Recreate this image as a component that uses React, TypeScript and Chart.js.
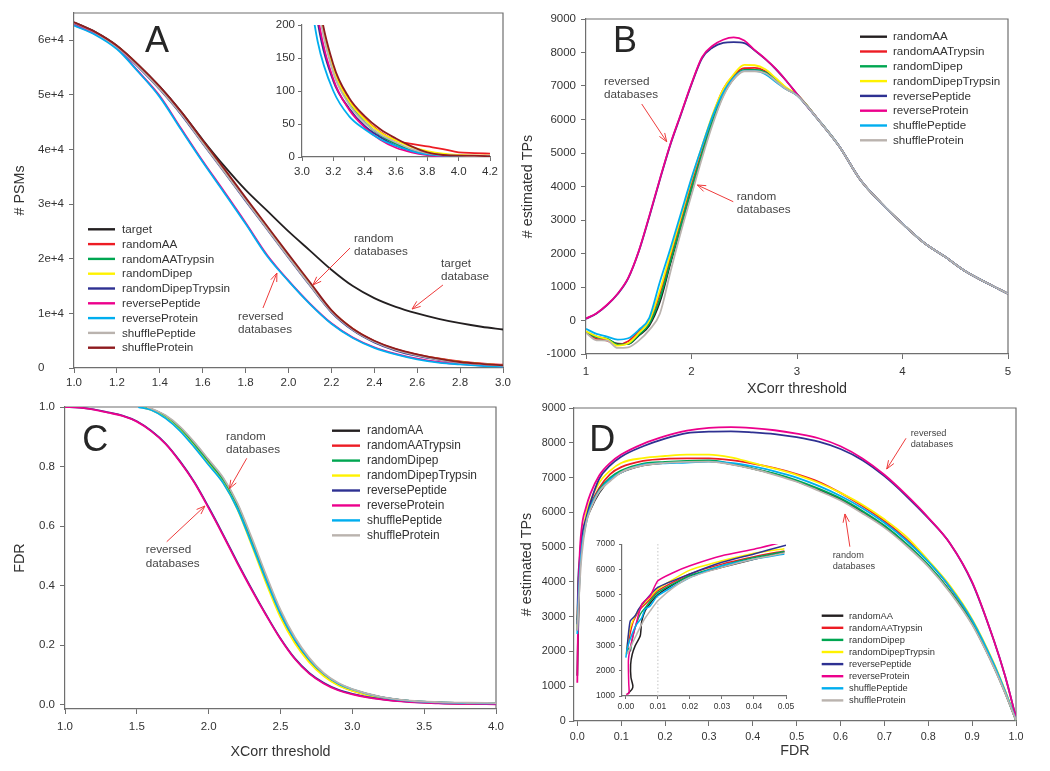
import React, { useEffect, useRef } from 'react';
import { Chart, registerables } from 'chart.js';

Chart.register(...registerables);

const FONT = "'Liberation Sans', Arial, Helvetica, sans-serif";
const TXT = '#333333';
const NOTE = '#454545';
const AXIS = '#6f6f6f';
const ARROW = '#ee3b3b';

const BLACK = '#231f20';
const RED = '#ed1c24';
const GREEN = '#00a651';
const YELLOW = '#fff200';
const NAVY = '#2e3192';
const MAGENTA = '#ec008c';
const CYAN = '#00aeef';
const GRAY = '#bab3ae';
const DARKRED = '#8e1b1f';

// ---------------- Panel A : # PSMs vs XCorr ----------------
const XA = [1.0, 1.1, 1.2, 1.3, 1.4, 1.5, 1.6, 1.7, 1.8, 1.9, 2.0, 2.1, 2.2, 2.3, 2.4, 2.5, 2.6, 2.7, 2.8, 2.9, 3.0];
const A_target = [63300, 61500, 59000, 55500, 51500, 46900, 41800, 37000, 32600, 28800, 25000, 21500, 18000, 15000, 12800, 11200, 10000, 9000, 8200, 7550, 7050];
const A_randomAA = [63200, 61400, 58900, 55400, 51300, 46700, 41500, 36300, 31000, 25800, 20500, 15400, 10500, 7200, 4950, 3450, 2450, 1750, 1200, 850, 600];
const A_randomAATrypsin = [63200, 61400, 58900, 55300, 51200, 46600, 41400, 36200, 30900, 25700, 20400, 15300, 10400, 7050, 4800, 3300, 2300, 1600, 1050, 700, 450];
const A_randomDipep = [63200, 61400, 58900, 55400, 51300, 46700, 41500, 36300, 31000, 25800, 20600, 15500, 10500, 7150, 4900, 3400, 2400, 1650, 1100, 750, 500];
const A_randomDipepTrypsin = [63100, 61300, 58700, 55100, 51000, 46400, 41100, 35900, 30600, 25400, 20200, 15100, 10200, 6900, 4700, 3200, 2200, 1500, 1000, 650, 450];
const A_reversePeptide = [62800, 61100, 58600, 54300, 49800, 43800, 37900, 32300, 26600, 20700, 16000, 11800, 8200, 5600, 3800, 2600, 1700, 1100, 700, 450, 300];
const A_reverseProtein = [62700, 61000, 58400, 54200, 49600, 43600, 37700, 32100, 26400, 20500, 15900, 11700, 8100, 5500, 3700, 2500, 1600, 1000, 650, 400, 250];
const A_shufflePeptide = [63200, 61400, 58800, 55200, 51100, 46500, 41200, 36000, 30700, 25500, 20300, 15200, 10300, 7000, 4800, 3300, 2300, 1550, 1000, 700, 450];
const A_shuffleProtein = [63300, 61500, 59000, 55500, 51500, 46900, 41700, 36500, 31200, 26000, 20800, 15700, 10600, 7200, 5000, 3500, 2500, 1700, 1100, 750, 500];
const A_XTICKS = [1.0, 1.2, 1.4, 1.6, 1.8, 2.0, 2.2, 2.4, 2.6, 2.8, 3.0];
const A_YTICKS = [0, 10000, 20000, 30000, 40000, 50000, 60000];

// inset of panel A
const XAI = [3.0, 3.1, 3.2, 3.3, 3.4, 3.5, 3.6, 3.7, 3.8, 3.9, 4.0, 4.1, 4.2];
const AI_randomAA = [480, 245, 135, 86, 58, 38, 25, 20, 16, 12, 7, 6, 5];
const AI_randomAATrypsin = [470, 240, 130, 82, 53, 33, 20, 10, 5, 3, 2, 1, 1];
const AI_randomDipep = [470, 242, 133, 85, 57, 37, 25, 15, 9, 5, 3, 2, 2];
const AI_randomDipepTrypsin = [400, 205, 115, 74, 47, 30, 17, 9, 4, 2, 1, 1, 1];
const AI_reversePeptide = [420, 215, 118, 72, 45, 26, 14, 7, 3, 1, 1, 0, 0];
const AI_reverseProtein = [330, 175, 100, 62, 42, 27, 17, 9, 4, 2, 1, 1, 1];
const AI_shufflePeptide = [460, 235, 128, 80, 52, 34, 22, 12, 6, 3, 2, 1, 1];
const AI_shuffleProtein = [490, 250, 140, 90, 62, 42, 28, 16, 7, 3, 2, 2, 1];
const AI_XTICKS = [3.0, 3.2, 3.4, 3.6, 3.8, 4.0, 4.2];
const AI_YTICKS = [0, 50, 100, 150, 200];

// ---------------- Panel B : # estimated TPs vs XCorr ----------------
const XB = [1.0, 1.1, 1.2, 1.3, 1.4, 1.5, 1.6, 1.7, 1.8, 1.9, 2.0, 2.1, 2.2, 2.3, 2.4, 2.5, 2.6, 2.7, 2.8, 2.9, 3.0, 3.2, 3.4, 3.6, 3.8, 4.0, 4.2, 4.4, 4.6, 4.8, 5.0];
const B_TAIL = [6000, 5200, 4200, 3500, 2890, 2330, 1910, 1460, 1120, 800];
const B_randomAA = [-340, -480, -560, -690, -700, -450, -150, 550, 1700, 2800, 3900, 4950, 5920, 6720, 7220, 7460, 7470, 7400, 7170, 6910, 6730, ...B_TAIL];
const B_randomAATrypsin = [-350, -550, -600, -720, -620, -330, -20, 800, 1900, 3000, 4100, 5100, 6100, 6900, 7320, 7530, 7540, 7440, 7200, 6930, 6740, ...B_TAIL];
const B_randomDipep = [-330, -500, -540, -720, -700, -430, -100, 650, 1750, 2850, 3950, 4980, 5950, 6750, 7250, 7480, 7480, 7410, 7180, 6920, 6730, ...B_TAIL];
const B_randomDipepTrypsin = [-320, -470, -560, -750, -680, -380, 0, 900, 2000, 3100, 4200, 5200, 6150, 6900, 7350, 7630, 7620, 7500, 7230, 6950, 6750, ...B_TAIL];
const B_reversePeptide = [50, 210, 460, 790, 1260, 2060, 3100, 4200, 5250, 6150, 7050, 7830, 8150, 8290, 8310, 8280, 8060, 7800, 7500, 7150, 6760, ...B_TAIL];
const B_reverseProtein = [60, 220, 470, 800, 1270, 2070, 3120, 4220, 5270, 6170, 7070, 7860, 8200, 8380, 8450, 8360, 8070, 7810, 7510, 7150, 6760, ...B_TAIL];
const B_shufflePeptide = [-250, -400, -480, -570, -530, -280, 80, 1150, 2150, 3200, 4250, 5200, 6100, 6800, 7250, 7450, 7450, 7350, 7120, 6900, 6720, ...B_TAIL];
const B_shuffleProtein = [-370, -590, -600, -820, -800, -600, -280, 200, 1450, 2650, 3750, 4850, 5850, 6680, 7200, 7440, 7440, 7380, 7150, 6900, 6720, ...B_TAIL];
const B_XTICKS = [1, 2, 3, 4, 5];
const B_YTICKS = [-1000, 0, 1000, 2000, 3000, 4000, 5000, 6000, 7000, 8000, 9000];

// ---------------- Panel C : FDR vs XCorr ----------------
const XC_REV = [1.0, 1.1, 1.2, 1.3, 1.4, 1.5, 1.6, 1.7, 1.8, 1.9, 2.0, 2.1, 2.2, 2.3, 2.4, 2.5, 2.6, 2.7, 2.8, 2.9, 3.0, 3.2, 3.4, 3.6, 3.8, 4.0];
const C_reversePeptide = [1.0, 0.998, 0.992, 0.982, 0.971, 0.952, 0.92, 0.877, 0.818, 0.748, 0.663, 0.572, 0.478, 0.388, 0.302, 0.222, 0.155, 0.106, 0.073, 0.05, 0.036, 0.018, 0.009, 0.005, 0.003, 0.002];
const C_reverseProtein = [1.0, 0.998, 0.991, 0.981, 0.97, 0.951, 0.919, 0.876, 0.816, 0.746, 0.66, 0.569, 0.475, 0.385, 0.3, 0.22, 0.153, 0.104, 0.071, 0.048, 0.034, 0.017, 0.008, 0.004, 0.002, 0.001];
const XC_RND = [1.6, 1.7, 1.8, 1.9, 2.0, 2.1, 2.2, 2.3, 2.4, 2.5, 2.6, 2.7, 2.8, 2.9, 3.0, 3.2, 3.4, 3.6, 3.8, 4.0];
// x where each random-type curve starts at FDR = 1.0
const C_START_randomAA = 1.55;
const C_START_randomAATrypsin = 1.53;
const C_START_randomDipep = 1.54;
const C_START_randomDipepTrypsin = 1.52;
const C_START_shufflePeptide = 1.51;
const C_START_shuffleProtein = 1.57;
const C_randomAA = [0.993, 0.97, 0.931, 0.879, 0.82, 0.76, 0.673, 0.553, 0.428, 0.312, 0.221, 0.153, 0.103, 0.07, 0.05, 0.025, 0.012, 0.007, 0.005, 0.004];
const C_randomAATrypsin = [0.991, 0.966, 0.925, 0.871, 0.811, 0.751, 0.664, 0.542, 0.415, 0.3, 0.212, 0.147, 0.099, 0.067, 0.047, 0.023, 0.011, 0.006, 0.004, 0.003];
const C_randomDipep = [0.992, 0.968, 0.928, 0.875, 0.815, 0.755, 0.668, 0.549, 0.424, 0.308, 0.218, 0.151, 0.102, 0.069, 0.049, 0.024, 0.012, 0.007, 0.005, 0.004];
const C_randomDipepTrypsin = [0.99, 0.964, 0.922, 0.867, 0.807, 0.746, 0.656, 0.535, 0.408, 0.293, 0.206, 0.142, 0.096, 0.065, 0.046, 0.022, 0.011, 0.006, 0.004, 0.003];
const C_shufflePeptide = [0.99, 0.962, 0.92, 0.865, 0.805, 0.745, 0.658, 0.54, 0.418, 0.305, 0.218, 0.152, 0.104, 0.071, 0.051, 0.025, 0.012, 0.007, 0.005, 0.004];
const C_shuffleProtein = [0.995, 0.972, 0.934, 0.882, 0.823, 0.763, 0.677, 0.56, 0.435, 0.318, 0.226, 0.157, 0.106, 0.073, 0.052, 0.026, 0.013, 0.008, 0.006, 0.005];
const C_XTICKS = [1.0, 1.5, 2.0, 2.5, 3.0, 3.5, 4.0];
const C_YTICKS = [0, 0.2, 0.4, 0.6, 0.8, 1.0];

// ---------------- Panel D : # estimated TPs vs FDR ----------------
const XD = [0, 0.002, 0.005, 0.01, 0.02, 0.03, 0.05, 0.075, 0.1, 0.15, 0.2, 0.25, 0.3, 0.35, 0.4, 0.45, 0.5, 0.55, 0.6, 0.65, 0.7, 0.75, 0.8, 0.85, 0.9, 0.95, 0.975, 1.0];
const D_randomAA = [1300, 2650, 4100, 5000, 5750, 6080, 6560, 6950, 7150, 7350, 7420, 7460, 7470, 7390, 7260, 7100, 6900, 6650, 6370, 6000, 5590, 5070, 4470, 3720, 2800, 1550, 820, 20];
const D_randomAATrypsin = [2600, 3700, 4450, 5160, 5820, 6210, 6700, 7100, 7300, 7480, 7540, 7550, 7550, 7500, 7400, 7270, 7100, 6880, 6560, 6180, 5750, 5230, 4600, 3830, 2870, 1600, 850, 30];
const D_randomDipep = [2900, 3200, 4230, 5090, 5750, 6150, 6650, 7000, 7200, 7400, 7450, 7480, 7490, 7400, 7260, 7110, 6920, 6680, 6400, 6040, 5620, 5100, 4490, 3730, 2810, 1560, 830, 20];
const D_randomDipepTrypsin = [2650, 3800, 4500, 5160, 5950, 6340, 6850, 7200, 7420, 7560, 7620, 7660, 7660, 7580, 7420, 7260, 7080, 6850, 6560, 6220, 5800, 5300, 4620, 3880, 2930, 1650, 880, 30];
const D_reversePeptide = [2780, 4000, 4600, 5290, 5820, 6280, 6960, 7350, 7600, 7900, 8120, 8280, 8320, 8330, 8300, 8250, 8160, 8030, 7820, 7500, 7040, 6470, 5830, 5100, 3980, 2300, 1300, 100];
const D_reverseProtein = [1100, 3100, 4650, 5550, 6145, 6540, 7060, 7420, 7660, 7970, 8190, 8350, 8430, 8450, 8420, 8360, 8260, 8130, 7900, 7550, 7080, 6500, 5850, 5100, 4000, 2300, 1300, 100];
const D_shufflePeptide = [2500, 3300, 4100, 4960, 5680, 6150, 6610, 6950, 7150, 7370, 7410, 7430, 7460, 7420, 7320, 7180, 7000, 6760, 6470, 6120, 5700, 5190, 4580, 3840, 2900, 1620, 860, 30];
const D_shuffleProtein = [2600, 3050, 3850, 4760, 5680, 6080, 6600, 6900, 7150, 7350, 7420, 7450, 7460, 7380, 7250, 7080, 6880, 6620, 6340, 5970, 5560, 5040, 4440, 3690, 2770, 1530, 810, 20];
const D_XTICKS = [0, 0.1, 0.2, 0.3, 0.4, 0.5, 0.6, 0.7, 0.8, 0.9, 1.0];
const D_YTICKS = [0, 1000, 2000, 3000, 4000, 5000, 6000, 7000, 8000, 9000];

// inset of panel D : [FDR, # estimated TPs]
const DI_randomAA = [[0.0005, 1070], [0.0019, 1260], [0.0022, 1400], [0.0016, 1730], [0.0015, 2250], [0.002, 2650], [0.0029, 2980], [0.0045, 3380], [0.0049, 3900], [0.0055, 4200], [0.0065, 4470], [0.01, 5000], [0.015, 5420], [0.02, 5750], [0.03, 6080], [0.04, 6400], [0.0495, 6700]];
const DI_randomAATrypsin = [[0.0003, 2700], [0.0014, 3500], [0.0024, 3970], [0.0045, 4430], [0.0071, 4760], [0.01, 5160], [0.02, 5820], [0.03, 6210], [0.04, 6500], [0.0495, 6730]];
const DI_randomDipep = [[0.0005, 2910], [0.0014, 2780], [0.0019, 3180], [0.0029, 3700], [0.0045, 4230], [0.0065, 4560], [0.01, 5090], [0.02, 5750], [0.03, 6150], [0.04, 6470], [0.0495, 6710]];
const DI_randomDipepTrypsin = [[0.0001, 2650], [0.0011, 3570], [0.0024, 4030], [0.0045, 4500], [0.0065, 4760], [0.01, 5220], [0.02, 5970], [0.03, 6340], [0.04, 6640], [0.0495, 6820]];
const DI_reversePeptide = [[0.0003, 2780], [0.0008, 3440], [0.0014, 3970], [0.0029, 4170], [0.004, 4430], [0.006, 4760], [0.01, 5290], [0.02, 5820], [0.03, 6280], [0.04, 6610], [0.05, 6960]];
const DI_reverseProtein = [[0.0001, 1060], [0.001, 1120], [0.0009, 1500], [0.0008, 2400], [0.0014, 2910], [0.0029, 3700], [0.005, 4630], [0.0076, 4960], [0.01, 5550], [0.0149, 5880], [0.02, 6145], [0.03, 6540], [0.04, 6800], [0.0476, 7030]];
const DI_shufflePeptide = [[0, 2520], [0.0005, 2910], [0.0019, 3440], [0.0034, 3840], [0.005, 4100], [0.006, 4430], [0.0076, 4560], [0.01, 4960], [0.02, 5680], [0.03, 6150], [0.04, 6410], [0.0495, 6610]];
const DI_shuffleProtein = [[0.0005, 2650], [0.0019, 3050], [0.0034, 3440], [0.0055, 3970], [0.0076, 4360], [0.01, 4760], [0.0149, 5290], [0.02, 5680], [0.03, 6080], [0.04, 6410], [0.0495, 6650]];
const DI_XTICKS = [0, 0.01, 0.02, 0.03, 0.04, 0.05];
const DI_YTICKS = [1000, 2000, 3000, 4000, 5000, 6000, 7000];

// ---------------- helpers ----------------
const pts = (xs: number[], ys: number[]) => xs.map((x, i) => ({ x, y: ys[i] }));
const pairs = (a: number[][]) => a.map(([x, y]) => ({ x, y }));
const startAt = (x0: number, xs: number[], ys: number[]) => [{ x: x0, y: 1.0 }, ...pts(xs, ys)];

const f1 = (v: number) => v.toFixed(1);
const f2 = (v: number) => v.toFixed(2);
const fi = (v: number) => String(Math.round(v));
const fe = (v: number) => (v === 0 ? '0' : `${Math.round(v / 10000)}e+4`);

type AxisSpec = {
  min: number; max: number; ticks: number[]; fmt: (v: number) => string;
  font: number; pad: number; tickLen: number; align?: string;
  title?: string; titlePad?: number;
};
type Note = { lines: string[]; tx: number; ty: number; from: number[]; to: number[] };
type Series = { label: string; color: string; data: { x: number; y: number }[] };
type Spec = {
  rect: number[]; wy: number; hx: number; pt: number; pr: number; padL?: number;
  series: Series[]; x: AxisSpec; y: AxisSpec; frame: boolean;
  lineWidth?: number; tension?: number;
  legend?: { x0: number; x1: number; tx: number; y0: number; step: number; size: number };
  letter?: { text: string; x: number; y: number; size: number };
  notes?: Note[]; noteSize?: number; noteLH?: number;
  vline?: number;
};

function axisOptions(a: AxisSpec, dir: string, size: number) {
  return {
    type: 'linear',
    bounds: 'data',
    min: a.min,
    max: a.max,
    afterBuildTicks: (s: any) => { s.ticks = a.ticks.map((v) => ({ value: v })); },
    afterFit: (s: any) => { if (dir === 'x') s.height = size; else s.width = size; },
    grid: { display: true, drawOnChartArea: false, drawTicks: true, tickLength: a.tickLen, color: AXIS, lineWidth: 1 },
    border: { display: true, color: AXIS, width: 1.2 },
    ticks: {
      autoSkip: false, maxRotation: 0, minRotation: 0, padding: a.pad, color: TXT,
      crossAlign: a.align || 'near',
      font: { family: FONT, size: a.font },
      callback: (v: any) => a.fmt(Number(v)),
    },
    title: a.title
      ? {
          display: true, text: a.title, color: TXT,
          font: { family: FONT, size: 14.3 },
          padding: dir === 'x' ? { top: 0, bottom: a.titlePad || 0 } : { top: a.titlePad || 0, bottom: 0 },
        }
      : { display: false },
  };
}

function drawArrow(ctx: CanvasRenderingContext2D, x1: number, y1: number, x2: number, y2: number) {
  ctx.beginPath();
  ctx.moveTo(x1, y1);
  ctx.lineTo(x2, y2);
  ctx.stroke();
  const a = Math.atan2(y2 - y1, x2 - x1);
  const L = 9;
  const w = 0.36;
  ctx.beginPath();
  ctx.moveTo(x2 - L * Math.cos(a - w), y2 - L * Math.sin(a - w));
  ctx.lineTo(x2, y2);
  ctx.lineTo(x2 - L * Math.cos(a + w), y2 - L * Math.sin(a + w));
  ctx.stroke();
}

function decorPlugin(spec: Spec) {
  return {
    id: 'decor',
    beforeDatasetsDraw(chart: any) {
      const ctx = chart.ctx;
      const ca = chart.chartArea;
      ctx.save();
      if (spec.frame) {
        ctx.strokeStyle = AXIS;
        ctx.lineWidth = 1.2;
        ctx.beginPath();
        ctx.moveTo(ca.left, ca.top);
        ctx.lineTo(ca.right, ca.top);
        ctx.lineTo(ca.right, ca.bottom);
        ctx.stroke();
      }
      if (spec.vline !== undefined) {
        const px = chart.scales.x.getPixelForValue(spec.vline);
        ctx.strokeStyle = '#c4c4c4';
        ctx.lineWidth = 1;
        ctx.setLineDash([1.5, 2]);
        ctx.beginPath();
        ctx.moveTo(px, ca.bottom);
        ctx.lineTo(px, ca.top);
        ctx.stroke();
        ctx.setLineDash([]);
      }
      ctx.restore();
    },
    afterDraw(chart: any) {
      const ctx: CanvasRenderingContext2D = chart.ctx;
      const ca = chart.chartArea;
      const xs = chart.scales.x;
      const ys = chart.scales.y;
      ctx.save();
      if (spec.letter) {
        const l = spec.letter;
        ctx.fillStyle = '#262626';
        ctx.font = `${l.size}px ${FONT}`;
        ctx.textAlign = 'left';
        ctx.textBaseline = 'alphabetic';
        ctx.fillText(l.text, ca.left + l.x, ca.top + l.y);
      }
      if (spec.legend) {
        const g = spec.legend;
        ctx.font = `${g.size}px ${FONT}`;
        ctx.textAlign = 'left';
        ctx.textBaseline = 'middle';
        spec.series.forEach((s, i) => {
          const y = ca.top + g.y0 + i * g.step;
          ctx.strokeStyle = s.color;
          ctx.lineWidth = 2.4;
          ctx.beginPath();
          ctx.moveTo(ca.left + g.x0, y);
          ctx.lineTo(ca.left + g.x1, y);
          ctx.stroke();
          ctx.fillStyle = TXT;
          ctx.fillText(s.label, ca.left + g.tx, y + 0.5);
        });
      }
      if (spec.notes) {
        ctx.font = `${spec.noteSize}px ${FONT}`;
        ctx.textAlign = 'left';
        ctx.textBaseline = 'middle';
        spec.notes.forEach((n) => {
          const tx = xs.getPixelForValue(n.tx);
          const ty = ys.getPixelForValue(n.ty);
          ctx.fillStyle = NOTE;
          n.lines.forEach((line, i) => ctx.fillText(line, tx, ty + i * (spec.noteLH || 13)));
          ctx.strokeStyle = ARROW;
          ctx.lineWidth = 1;
          drawArrow(
            ctx,
            xs.getPixelForValue(n.from[0]), ys.getPixelForValue(n.from[1]),
            xs.getPixelForValue(n.to[0]), ys.getPixelForValue(n.to[1]),
          );
        });
      }
      ctx.restore();
    },
  };
}

function Panel({ spec }: { spec: Spec }) {
  const ref = useRef<HTMLCanvasElement>(null);
  const [L, T, R, B] = spec.rect;
  const padL = spec.padL || 0;
  const left = L - spec.wy - padL;
  const top = T - spec.pt;
  const width = padL + spec.wy + (R - L) + spec.pr;
  const height = spec.pt + (B - T) + spec.hx;

  useEffect(() => {
    const canvas = ref.current;
    if (!canvas) return;
    const chart = new Chart(canvas, {
      type: 'line',
      data: {
        datasets: spec.series.map((s, i) => ({
          label: s.label,
          data: s.data,
          borderColor: s.color,
          backgroundColor: s.color,
          borderWidth: spec.lineWidth || 1.8,
          pointRadius: 0,
          fill: false,
          order: -i,
          cubicInterpolationMode: spec.tension === undefined ? 'monotone' : 'default',
          tension: spec.tension || 0,
        })),
      },
      options: {
        responsive: false,
        animation: false,
        devicePixelRatio: 1,
        events: [],
        layout: { padding: { left: padL, top: spec.pt, right: spec.pr, bottom: 0 } },
        plugins: { legend: { display: false }, tooltip: { enabled: false }, title: { display: false } },
        scales: {
          x: axisOptions(spec.x, 'x', spec.hx),
          y: axisOptions(spec.y, 'y', spec.wy),
        },
      } as any,
      plugins: [decorPlugin(spec)],
    } as any);
    return () => chart.destroy();
  }, []);

  return (
    <canvas
      ref={ref}
      width={width}
      height={height}
      style={{ position: 'absolute', left, top, width, height }}
    />
  );
}

// ---------------- panel specs ----------------
const specA: Spec = {
  rect: [74, 13, 503, 368], wy: 36, padL: 38, hx: 30, pt: 13, pr: 20,
  frame: true,
  series: [
    { label: 'target', color: BLACK, data: pts(XA, A_target) },
    { label: 'randomAA', color: RED, data: pts(XA, A_randomAA) },
    { label: 'randomAATrypsin', color: GREEN, data: pts(XA, A_randomAATrypsin) },
    { label: 'randomDipep', color: YELLOW, data: pts(XA, A_randomDipep) },
    { label: 'randomDipepTrypsin', color: NAVY, data: pts(XA, A_randomDipepTrypsin) },
    { label: 'reversePeptide', color: MAGENTA, data: pts(XA, A_reversePeptide) },
    { label: 'reverseProtein', color: CYAN, data: pts(XA, A_reverseProtein) },
    { label: 'shufflePeptide', color: GRAY, data: pts(XA, A_shufflePeptide) },
    { label: 'shuffleProtein', color: DARKRED, data: pts(XA, A_shuffleProtein) },
  ],
  x: { min: 1, max: 3, ticks: A_XTICKS, fmt: f1, font: 11.5, pad: 3.4, tickLen: 5 },
  y: { min: 0, max: 65000, ticks: A_YTICKS, fmt: fe, font: 11.5, pad: 5, tickLen: 5, align: 'far', title: '# PSMs', titlePad: -26.6 },
  legend: { x0: 14, x1: 41, tx: 48, y0: 216.3, step: 14.8, size: 11.7 },
  letter: { text: 'A', x: 71, y: 39, size: 36 },
  noteSize: 11.7, noteLH: 13,
  notes: [
    { lines: ['random', 'databases'], tx: 2.305, ty: 23620, from: [2.287, 21970], to: [2.114, 15200] },
    { lines: ['target', 'database'], tx: 2.711, ty: 19040, from: [2.72, 15200], to: [2.576, 10800] },
    { lines: ['reversed', 'databases'], tx: 1.765, ty: 9340, from: [1.881, 10990], to: [1.946, 17390] },
  ],
};

const specAI: Spec = {
  rect: [302, 25, 490, 157], wy: 40, hx: 25, pt: 12, pr: 14,
  frame: false,
  series: [
    { label: 'randomAA', color: RED, data: pts(XAI, AI_randomAA) },
    { label: 'randomAATrypsin', color: GREEN, data: pts(XAI, AI_randomAATrypsin) },
    { label: 'randomDipep', color: YELLOW, data: pts(XAI, AI_randomDipep) },
    { label: 'randomDipepTrypsin', color: NAVY, data: pts(XAI, AI_randomDipepTrypsin) },
    { label: 'reversePeptide', color: MAGENTA, data: pts(XAI, AI_reversePeptide) },
    { label: 'reverseProtein', color: CYAN, data: pts(XAI, AI_reverseProtein) },
    { label: 'shufflePeptide', color: GRAY, data: pts(XAI, AI_shufflePeptide) },
    { label: 'shuffleProtein', color: DARKRED, data: pts(XAI, AI_shuffleProtein) },
  ],
  x: { min: 3.0, max: 4.2, ticks: AI_XTICKS, fmt: f1, font: 11.5, pad: 3.8, tickLen: 4 },
  y: { min: 0, max: 200, ticks: AI_YTICKS, fmt: fi, font: 11.5, pad: 3, tickLen: 4 },
};

const bcdSeries = (
  xs: number[],
  v: number[][],
) => [
  { label: 'randomAA', color: BLACK, data: pts(xs, v[0]) },
  { label: 'randomAATrypsin', color: RED, data: pts(xs, v[1]) },
  { label: 'randomDipep', color: GREEN, data: pts(xs, v[2]) },
  { label: 'randomDipepTrypsin', color: YELLOW, data: pts(xs, v[3]) },
  { label: 'reversePeptide', color: NAVY, data: pts(xs, v[4]) },
  { label: 'reverseProtein', color: MAGENTA, data: pts(xs, v[5]) },
  { label: 'shufflePeptide', color: CYAN, data: pts(xs, v[6]) },
  { label: 'shuffleProtein', color: GRAY, data: pts(xs, v[7]) },
];

const specB: Spec = {
  rect: [586, 19, 1008, 354], wy: 70, hx: 45, pt: 12, pr: 20,
  frame: true,
  series: bcdSeries(XB, [B_randomAA, B_randomAATrypsin, B_randomDipep, B_randomDipepTrypsin, B_reversePeptide, B_reverseProtein, B_shufflePeptide, B_shuffleProtein]),
  x: { min: 1, max: 5, ticks: B_XTICKS, fmt: fi, font: 11.5, pad: 5.8, tickLen: 5, title: 'XCorr threshold', titlePad: 0.9 },
  y: { min: -1000, max: 9000, ticks: B_YTICKS, fmt: fi, font: 11.5, pad: 5, tickLen: 5, title: '# estimated TPs', titlePad: 3.9 },
  legend: { x0: 274, x1: 301, tx: 307, y0: 17.7, step: 14.8, size: 11.6 },
  letter: { text: 'B', x: 27, y: 32.7, size: 36 },
  noteSize: 11.7, noteLH: 13,
  notes: [
    { lines: ['reversed', 'databases'], tx: 1.171, ty: 7128, from: [1.528, 6463], to: [1.765, 5337] },
    { lines: ['random', 'databases'], tx: 2.428, ty: 3708, from: [2.396, 3546], to: [2.055, 4045] },
  ],
};

const specC: Spec = {
  rect: [65, 407, 496, 709], wy: 65, hx: 58, pt: 12, pr: 20,
  frame: true,
  series: [
    { label: 'randomAA', color: BLACK, data: startAt(C_START_randomAA, XC_RND, C_randomAA) },
    { label: 'randomAATrypsin', color: RED, data: startAt(C_START_randomAATrypsin, XC_RND, C_randomAATrypsin) },
    { label: 'randomDipep', color: GREEN, data: startAt(C_START_randomDipep, XC_RND, C_randomDipep) },
    { label: 'randomDipepTrypsin', color: YELLOW, data: startAt(C_START_randomDipepTrypsin, XC_RND, C_randomDipepTrypsin) },
    { label: 'reversePeptide', color: NAVY, data: pts(XC_REV, C_reversePeptide) },
    { label: 'reverseProtein', color: MAGENTA, data: pts(XC_REV, C_reverseProtein) },
    { label: 'shufflePeptide', color: CYAN, data: startAt(C_START_shufflePeptide, XC_RND, C_shufflePeptide) },
    { label: 'shuffleProtein', color: GRAY, data: startAt(C_START_shuffleProtein, XC_RND, C_shuffleProtein) },
  ],
  x: { min: 1, max: 4, ticks: C_XTICKS, fmt: f1, font: 11.5, pad: 5.8, tickLen: 5, title: 'XCorr threshold', titlePad: 6.7 },
  y: { min: -0.015, max: 1.0, ticks: C_YTICKS, fmt: f1, font: 11.5, pad: 5, tickLen: 5, title: 'FDR', titlePad: 11.4 },
  legend: { x0: 267, x1: 295, tx: 302, y0: 23.7, step: 14.95, size: 11.9 },
  letter: { text: 'C', x: 17.3, y: 43.7, size: 36 },
  noteSize: 11.7, noteLH: 13.3,
  notes: [
    { lines: ['random', 'databases'], tx: 2.121, ty: 0.9015, from: [2.265, 0.8276], to: [2.144, 0.7254] },
    { lines: ['reversed', 'databases'], tx: 1.562, ty: 0.5193, from: [1.708, 0.5472], to: [1.974, 0.6672] },
  ],
};

const specD: Spec = {
  rect: [574, 408, 1016, 721], wy: 60, hx: 45, pt: 12, pr: 20,
  frame: true,
  series: bcdSeries(XD, [D_randomAA, D_randomAATrypsin, D_randomDipep, D_randomDipepTrypsin, D_reversePeptide, D_reverseProtein, D_shufflePeptide, D_shuffleProtein]),
  x: { min: -0.0075, max: 1.0, ticks: D_XTICKS, fmt: f1, font: 10.8, pad: 4.2, tickLen: 5, title: 'FDR', titlePad: 6.4 },
  y: { min: 0, max: 9000, ticks: D_YTICKS, fmt: fi, font: 10.8, pad: 3.3, tickLen: 5, title: '# estimated TPs', titlePad: 4.9 },
  legend: { x0: 247.7, x1: 269.3, tx: 275, y0: 207.7, step: 12.1, size: 9.3 },
  letter: { text: 'D', x: 15.3, y: 42.7, size: 36 },
  noteSize: 9.2, noteLH: 10.6,
  notes: [
    { lines: ['reversed', 'databases'], tx: 0.76, ty: 8261, from: [0.7493, 8129], to: [0.7053, 7246] },
    { lines: ['random', 'databases'], tx: 0.5822, ty: 4754, from: [0.6213, 5012], to: [0.6101, 5953] },
  ],
};

const specDI: Spec = {
  rect: [622, 543, 786, 696], wy: 32, hx: 22, pt: 8, pr: 12,
  frame: false,
  lineWidth: 1.5,
  tension: 0.2,
  vline: 0.01,
  series: [
    { label: 'randomAA', color: BLACK, data: pairs(DI_randomAA) },
    { label: 'randomAATrypsin', color: RED, data: pairs(DI_randomAATrypsin) },
    { label: 'randomDipep', color: GREEN, data: pairs(DI_randomDipep) },
    { label: 'randomDipepTrypsin', color: YELLOW, data: pairs(DI_randomDipepTrypsin) },
    { label: 'reversePeptide', color: NAVY, data: pairs(DI_reversePeptide) },
    { label: 'reverseProtein', color: MAGENTA, data: pairs(DI_reverseProtein) },
    { label: 'shufflePeptide', color: CYAN, data: pairs(DI_shufflePeptide) },
    { label: 'shuffleProtein', color: GRAY, data: pairs(DI_shuffleProtein) },
  ],
  x: { min: -0.0012, max: 0.05, ticks: DI_XTICKS, fmt: f2, font: 8.5, pad: 2.6, tickLen: 3 },
  y: { min: 1000, max: 7000, ticks: DI_YTICKS, fmt: fi, font: 8.5, pad: 4, tickLen: 3 },
};

export default function App() {
  return (
    <div style={{ position: 'absolute', left: 0, top: 0, width: 1050, height: 771, background: '#ffffff', overflow: 'hidden' }}>
      <Panel spec={specA} />
      <Panel spec={specAI} />
      <Panel spec={specB} />
      <Panel spec={specC} />
      <Panel spec={specD} />
      <Panel spec={specDI} />
    </div>
  );
}
